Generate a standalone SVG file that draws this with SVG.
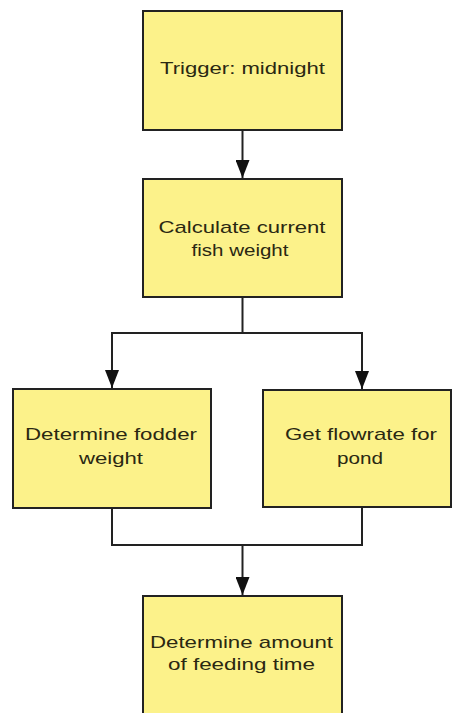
<svg xmlns="http://www.w3.org/2000/svg" width="454" height="713" viewBox="0 0 454 713">
<style>
.box{fill:#FCF28A;stroke:#222;stroke-width:2}
.lbl{font-family:"Liberation Sans",Arial,sans-serif;font-size:17px;fill:#2a2812;text-anchor:middle}
.con{fill:none;stroke:#222;stroke-width:2}
</style>
<defs>
<marker id="ah" markerUnits="userSpaceOnUse" markerWidth="18" markerHeight="14" viewBox="0 0 18 14" refX="18" refY="7" orient="auto">
<path d="M0,0 L18,7 L0,14 z" fill="#111"/>
</marker>
</defs>
<rect width="454" height="713" fill="#fff"/>
<g id="connectors">
<path class="con" d="M242.5,130 V178" marker-end="url(#ah)"/>
<path class="con" d="M242.5,297 V333 H112 V388" marker-end="url(#ah)"/>
<path class="con" d="M242.5,333 H362 V389" marker-end="url(#ah)"/>
<path class="con" d="M112,508 V545 H362 V507"/>
<path class="con" d="M242.5,545 V595" marker-end="url(#ah)"/>
</g>
<g id="n1">
<rect class="box" x="143" y="11" width="199" height="119"/>
<text class="lbl" x="242.5" y="74" textLength="165" lengthAdjust="spacingAndGlyphs">Trigger: midnight</text>
</g>
<g id="n2">
<rect class="box" x="143" y="179" width="199" height="118"/>
<text class="lbl" x="242" y="233" textLength="167" lengthAdjust="spacingAndGlyphs">Calculate current</text>
<text class="lbl" x="240" y="256" textLength="97" lengthAdjust="spacingAndGlyphs">fish weight</text>
</g>
<g id="n3">
<rect class="box" x="13" y="389" width="198" height="119"/>
<text class="lbl" x="111" y="440" textLength="172" lengthAdjust="spacingAndGlyphs">Determine fodder</text>
<text class="lbl" x="111" y="464" textLength="64" lengthAdjust="spacingAndGlyphs">weight</text>
</g>
<g id="n4">
<rect class="box" x="263" y="390" width="188" height="117"/>
<text class="lbl" x="361" y="440" textLength="152" lengthAdjust="spacingAndGlyphs">Get flowrate for</text>
<text class="lbl" x="360" y="464" textLength="46" lengthAdjust="spacingAndGlyphs">pond</text>
</g>
<g id="n5">
<rect class="box" x="143" y="596" width="199" height="130"/>
<text class="lbl" x="241.5" y="648" textLength="183" lengthAdjust="spacingAndGlyphs">Determine amount</text>
<text class="lbl" x="241.5" y="670" textLength="147" lengthAdjust="spacingAndGlyphs">of feeding time</text>
</g>
</svg>
